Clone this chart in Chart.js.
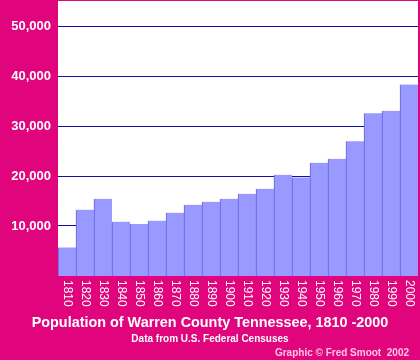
<!DOCTYPE html>
<html lang="en">
<head>
<meta charset="UTF-8">
<title>Population of Warren County Tennessee</title>
<script src="https://cdn.jsdelivr.net/npm/chart.js"></script>
<style>
  body { margin: 0; background: #e0057c; }
  #wrap { width: 420px; height: 360px; }
</style>
</head>
<body>
<div id="wrap"><canvas id="popChart" width="420" height="360"></canvas></div>
<script>
const years = ['1810', '1820', '1830', '1840', '1850', '1860', '1870', '1880', '1890', '1900',
               '1910', '1920', '1930', '1940', '1950', '1960', '1970', '1980', '1990', '2000'];
const population = [5725, 13260, 15450, 10860, 10400, 11060, 12660, 14250, 14850, 15450,
                    16450, 17450, 20250, 19720, 22650, 23450, 26950, 32550, 33050, 38300];
const yTicks = [10000, 20000, 30000, 40000, 50000];
const titleText = 'Population of Warren County Tennessee, 1810 -2000';
const subtitleText = 'Data from U.S. Federal Censuses';
const creditText = 'Graphic \u00A9 Fred Smoot  2002';

const FONT = 'Arial, "Liberation Sans", sans-serif';

// white plot area, rotated year labels and the captions underneath
const decor = {
  id: 'decor',
  beforeDraw(chart) {
    const a = chart.chartArea;
    const ctx = chart.ctx;
    ctx.save();
    ctx.fillStyle = '#ffffff';
    ctx.fillRect(a.left, a.top, a.right - a.left, a.bottom - a.top);
    ctx.restore();
  },
  afterDraw(chart) {
    const ctx = chart.ctx;
    const x = chart.scales.x;
    const bottom = chart.chartArea.bottom;
    ctx.save();
    ctx.fillStyle = '#ffffff';
    ctx.font = '12px ' + FONT;
    ctx.textAlign = 'left';
    ctx.textBaseline = 'middle';
    years.forEach((yr, i) => {
      ctx.save();
      ctx.translate(x.getPixelForTick(i), bottom + 4);
      ctx.rotate(Math.PI / 2);
      ctx.fillText(yr, 0, 0);
      ctx.restore();
    });

    ctx.textAlign = 'center';
    ctx.font = 'bold 14.4px ' + FONT;
    ctx.fillText(titleText, 210, 323);
    ctx.font = 'bold 10px ' + FONT;
    ctx.fillText(subtitleText, 210, 339);
    ctx.textAlign = 'right';
    ctx.fillStyle = '#ffc4e4';
    ctx.fillText(creditText, 409, 353);
    ctx.restore();
  }
};

new Chart(document.getElementById('popChart'), {
  type: 'bar',
  data: {
    labels: years,
    datasets: [{
      data: population,
      backgroundColor: '#9999ff',
      borderColor: '#6262dd',
      borderWidth: { left: 1, right: 0, top: 0, bottom: 0 },
      borderSkipped: false,
      categoryPercentage: 1.0,
      barPercentage: 1.0
    }]
  },
  options: {
    responsive: false,
    animation: false,
    layout: { padding: { top: 1, right: 2, bottom: 0, left: 0 } },
    plugins: {
      legend: { display: false },
      tooltip: { enabled: false }
    },
    scales: {
      x: {
        grid: { display: false },
        border: { display: false },
        ticks: { display: false },
        afterFit: s => { s.height = 84; s.paddingLeft = 0; s.paddingRight = 0; }
      },
      y: {
        min: 0,
        max: 55000,
        z: 1,
        afterBuildTicks: s => { s.ticks = yTicks.map(v => ({ value: v })); },
        afterFit: s => { s.width = 58; s.paddingTop = 0; s.paddingBottom = 0; },
        grid: { color: '#1010a4', lineWidth: 1, drawTicks: false },
        border: { display: false },
        ticks: {
          color: '#ffffff',
          padding: 7,
          font: { family: FONT, size: 13, weight: 'bold' },
          callback: v => v.toLocaleString('en-US')
        }
      }
    }
  },
  plugins: [decor]
});
</script>
</body>
</html>
